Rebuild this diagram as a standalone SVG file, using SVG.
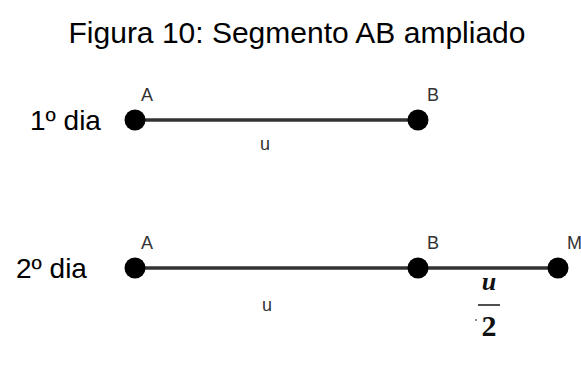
<svg xmlns="http://www.w3.org/2000/svg" width="581" height="367" viewBox="0 0 581 367">
<style>
.t{font-family:"Liberation Sans",Arial,sans-serif;fill:#000}
.lbl{font-family:"Liberation Sans",Arial,sans-serif;font-size:18px;fill:#333}
.seg{stroke:#333;stroke-width:3.5;fill:none}
.pt{fill:#000}
.frac{font-family:"Liberation Serif","Times New Roman",serif;fill:#111}
</style>
<rect width="581" height="367" fill="#fff"/>
<text class="t" x="297" y="43" font-size="30" text-anchor="middle">Figura 10: Segmento AB ampliado</text>
<text class="t" x="30" y="130" font-size="28">1º dia</text>
<text class="t" x="16" y="278" font-size="28">2º dia</text>
<g id="connectors">
<line class="seg" x1="135" y1="120" x2="418" y2="120"/>
<line class="seg" x1="135" y1="268" x2="418" y2="268"/>
<line class="seg" x1="418" y1="268" x2="558" y2="268"/>
</g>
<g id="A1"><circle class="pt" cx="135" cy="120" r="10.5"/><text class="lbl" x="141" y="101">A</text></g>
<g id="B1"><circle class="pt" cx="418" cy="120" r="10.5"/><text class="lbl" x="427" y="101">B</text></g>
<g id="A2"><circle class="pt" cx="135" cy="268" r="10.5"/><text class="lbl" x="141" y="249">A</text></g>
<g id="B2"><circle class="pt" cx="418" cy="268" r="10.5"/><text class="lbl" x="427" y="249">B</text></g>
<g id="M2"><circle class="pt" cx="558" cy="268" r="10.5"/><text class="lbl" x="567" y="249">M</text></g>
<text class="lbl" x="260" y="150">u</text>
<text class="lbl" x="262" y="311">u</text>
<g id="half">
<text class="frac" x="489" y="290" font-size="26" font-style="italic" font-weight="bold" text-anchor="middle" fill="#1a2a50">u</text>
<line x1="478" y1="305" x2="500" y2="305" stroke="#222" stroke-width="1.6"/>
<text class="frac" x="489" y="336" font-size="30" font-weight="bold" text-anchor="middle">2</text>
<circle cx="476" cy="320" r="1" fill="#666"/>
</g>
</svg>
